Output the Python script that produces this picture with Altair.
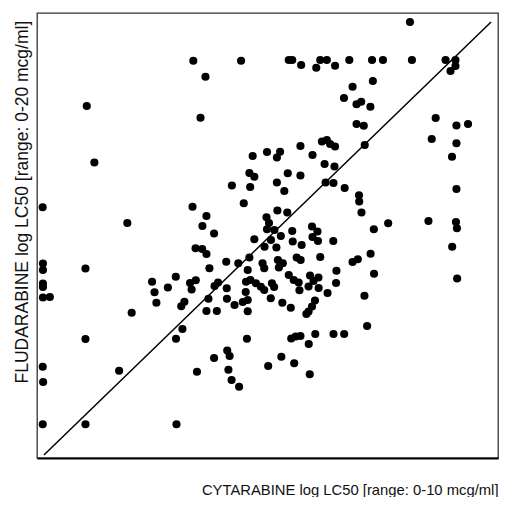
import altair as alt
import pandas as pd

# Cytarabine (x) and Fludarabine (y) values, in plot units (x: 0-466, y: 0-445)
x_vals = [158.0, 206.3, 254.5, 258.0, 267.0, 282.3, 286.3, 293.0, 301.3, 315.7,
          338.7, 349.7, 379.0, 413.0, 423.0, 418.0, 423.0, 377.0, 170.3, 339.5,
          319.0, 310.3, 323.0, 327.7, 337.0, 50.3, 165.3, 403.0, 323.0, 330.3,
          435.7, 424.0, 399.0, 331.3, 424.0, 266.3, 288.0, 293.0, 296.3, 301.3,
          232.5, 245.7, 242.5, 218.0, 278.5, 419.5, 58.0, 290.7, 300.7, 214.7,
          219.7, 253.5, 266.3, 197.0, 215.5, 242.5, 250.0, 291.7, 299.7, 311.0,
          325.5, 325.7, 424.0, 5.7, 157.2, 209.0, 171.3, 167.2, 179.0, 91.3,
          243.0, 253.0, 328.0, 232.0, 234.5, 232.5, 240.0, 236.5, 246.5, 219.7,
          230.0, 242.0, 258.0, 278.0, 283.5, 278.5, 284.0, 258.5, 267.5, 299.5,
          340.5, 355.0, 395.7, 423.5, 424.5, 419.7, 424.7, 160.3, 167.0, 171.3,
          191.3, 203.5, 214.7, 228.0, 229.7, 243.5, 248.5, 244.5, 262.5, 266.5,
          286.3, 319.0, 324.3, 337.2, 174.3, 213.0, 302.7, 340.7, 49.0, 6.0,
          6.0, 6.0, 6.0, 6.0, 13.0, 116.3, 140.3, 132.3, 118.8, 154.7,
          156.3, 160.5, 183.0, 179.5, 191.8, 211.3, 215.7, 221.3, 226.3, 229.7,
          237.5, 239.7, 254.5, 259.5, 264.5, 265.3, 276.0, 284.5, 274.5, 284.7,
          279.5, 293.7, 302.3, 331.0, 120.7, 95.7, 149.0, 145.8, 173.3, 171.3,
          181.8, 192.0, 199.7, 211.0, 213.0, 208.0, 213.0, 236.3, 248.0, 256.5,
          281.0, 278.0, 274.5, 272.3, 333.7, 147.0, 140.5, 49.0, 212.2, 257.0,
          261.5, 266.3, 281.3, 274.7, 299.7, 310.5, 192.3, 194.7, 179.0, 247.0,
          260.0, 233.7, 275.7, 5.8, 6.2, 83.0, 161.7, 193.5, 196.7, 204.3,
          5.8, 49.0, 141.0]
y_vals = [397.3, 397.3, 398.0, 398.0, 393.0, 390.3, 398.0, 398.0, 392.3, 398.0,
          398.0, 398.0, 398.0, 398.0, 398.0, 387.0, 392.0, 436.0, 381.3, 377.0,
          371.3, 360.0, 353.7, 356.3, 351.3, 352.0, 340.3, 340.0, 334.0, 332.3,
          334.0, 332.5, 319.0, 313.0, 314.7, 312.0, 316.5, 318.0, 314.0, 311.5,
          306.0, 306.3, 300.5, 302.0, 303.0, 301.3, 295.5, 294.0, 291.5, 285.0,
          281.3, 284.7, 282.5, 272.5, 271.0, 275.5, 267.0, 275.5, 275.0, 270.0,
          262.7, 256.5, 269.0, 250.7, 251.3, 254.7, 242.0, 232.0, 224.5, 235.0,
          247.5, 245.5, 245.5, 240.7, 235.0, 228.7, 228.0, 218.0, 222.0, 218.7,
          211.3, 210.5, 227.0, 231.5, 226.5, 221.0, 217.0, 216.5, 213.0, 217.0,
          228.7, 234.7, 237.0, 236.0, 229.7, 211.3, 179.5, 209.7, 209.0, 204.0,
          196.3, 194.7, 200.5, 194.7, 189.7, 198.0, 194.7, 190.5, 200.5, 198.0,
          201.0, 196.0, 198.7, 204.3, 189.7, 188.0, 187.3, 184.3, 189.5, 194.5,
          188.0, 174.5, 171.0, 160.5, 161.0, 176.3, 181.3, 170.5, 165.7, 175.0,
          168.5, 177.8, 175.5, 172.0, 169.7, 176.3, 178.0, 174.7, 171.3, 168.0,
          174.7, 171.0, 183.0, 178.0, 175.5, 167.7, 182.5, 180.5, 171.5, 170.0,
          177.0, 165.0, 175.0, 162.2, 155.3, 145.3, 156.3, 151.7, 159.3, 147.0,
          147.0, 159.2, 153.0, 166.0, 158.0, 156.0, 146.7, 159.7, 155.3, 150.2,
          157.5, 151.5, 146.5, 144.0, 132.0, 129.0, 119.3, 119.0, 119.3, 119.5,
          121.5, 122.0, 124.0, 114.0, 124.0, 124.0, 107.5, 102.0, 100.0, 101.3,
          94.7, 92.0, 83.8, 91.3, 76.0, 87.3, 86.3, 88.3, 78.0, 71.3,
          33.8, 33.8, 33.8]

# Identity (diagonal) reference line end points
line_x = [7, 459]
line_y = [3, 436]

x_title = "CYTARABINE log LC50 [range: 0-10 mcg/ml]"
y_title = "FLUDARABINE log LC50 [range: 0-20 mcg/ml]"

df = pd.DataFrame({"x": x_vals, "y": y_vals})
df_line = pd.DataFrame({"x": line_x, "y": line_y})

W, H = 461, 445

xs = alt.Scale(domain=[0, 466], nice=False, zero=False)
ys = alt.Scale(domain=[0, 445], nice=False, zero=False)

x_axis = alt.Axis(title=x_title, labels=False, ticks=False, grid=False,
                  domain=True, domainColor="black", domainWidth=2,
                  titleX=W, titleY=36, titleAlign="right",
                  titleBaseline="alphabetic",
                  titleFont="Liberation Sans",
                  titleFontSize=14.8, titleFontWeight="normal", titleColor="#111")
y_axis = alt.Axis(title=y_title, labels=False, ticks=False, grid=False,
                  domain=False, titleAngle=270, titleX=-10, titleY=370,
                  titleAlign="left", titleBaseline="alphabetic",
                  titleFont="Liberation Sans", titleFontSize=17.5,
                  titleFontWeight="normal", titleColor="#111")

line = alt.Chart(df_line).mark_line(color="black", strokeWidth=1.5).encode(
    x=alt.X("x:Q", scale=xs, axis=x_axis),
    y=alt.Y("y:Q", scale=ys, axis=y_axis),
)

points = alt.Chart(df).mark_circle(size=66, color="black", opacity=1).encode(
    x=alt.X("x:Q", scale=xs, axis=x_axis),
    y=alt.Y("y:Q", scale=ys, axis=y_axis),
)

chart = alt.layer(line, points).properties(
    width=W, height=H,
    autosize=alt.AutoSizeParams(type="none"),
    padding={"left": 29, "top": 5, "right": 1, "bottom": 39},
).configure_view(stroke="#333", strokeWidth=1.3)

chart.save("out.html", embed_options={"renderer": "svg", "actions": False})
